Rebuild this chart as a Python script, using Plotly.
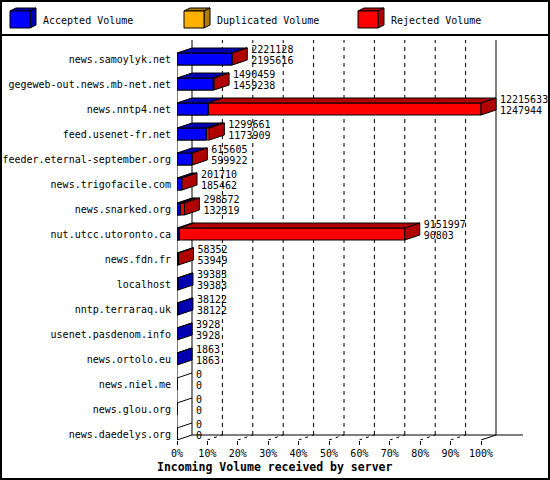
import plotly.graph_objects as go

# incoming volume per server
servers = ["news.samoylyk.net", "gegeweb-out.news.mb-net.net", "news.nntp4.net",
           "feed.usenet-fr.net", "feeder.eternal-september.org", "news.trigofacile.com",
           "news.snarked.org", "nut.utcc.utoronto.ca", "news.fdn.fr", "localhost",
           "nntp.terraraq.uk", "usenet.pasdenom.info", "news.ortolo.eu", "news.niel.me",
           "news.glou.org", "news.daedelys.org"]
total_volume = [2221128, 1490459, 12215633, 1299661, 615605, 201710, 298572, 9151997,
                58352, 39383, 38122, 3928, 1863, 0, 0, 0]
accepted_volume = [2195616, 1459238, 1247944, 1173909, 599922, 185462, 132319, 90803,
                   53949, 39383, 38122, 3928, 1863, 0, 0, 0]
duplicated_volume = [0, 0, 0, 0, 0, 0, 0, 0, 0, 0, 0, 0, 0, 0, 0, 0]
tick_pcts = [0, 10, 20, 30, 40, 50, 60, 70, 80, 90, 100]
tick_labels = ["0%", "10%", "20%", "30%", "40%", "50%", "60%", "70%", "80%", "90%", "100%"]
legend_names = ["Accepted Volume", "Duplicated Volume", "Rejected Volume"]

BLUE, BLUE_DK = "#0000ff", "#0000b0"
ORANGE, ORANGE_DK = "#ffb000", "#b07c00"
RED, RED_DK = "#ff0000", "#b00000"
MONO = "DejaVu Sans Mono"

# pixel geometry of the pseudo-3d drawing
L, R, T, B = 177, 530, 38, 440
PX_PER_PCT = 3.04
ROW0_PX, ROW_PX = 59, 25
DEPTH_X, DEPTH_Y = 15, 5
BAR_PX = 12

vmax = max(total_volume)
unit_px = PX_PER_PCT * 100 / vmax
dx = DEPTH_X / unit_px
dy = DEPTH_Y / ROW_PX
h = BAR_PX / 2 / ROW_PX
rows = list(range(len(servers)))
y_lo = (B - ROW0_PX) / ROW_PX
y_hi = (T - ROW0_PX) / ROW_PX
y_wall_top = (40 - ROW0_PX) / ROW_PX
y_front_floor = rows[-1] + h
y_back_floor = y_front_floor - dy


def path(pts, fill, layer="above"):
    d = "M " + " L ".join(f"{x},{y}" for x, y in pts) + " Z"
    return dict(type="path", xref="x", yref="y", path=d, fillcolor=fill,
                line=dict(color="black", width=1), layer=layer)


def seg(x0, y0, x1, y1, dash="solid", layer="below"):
    return dict(type="line", xref="x", yref="y", x0=x0, y0=y0, x1=x1, y1=y1,
                line=dict(color="black", width=1, dash=dash), layer=layer)


def pxx(x):
    return (x - L) / (R - L)


def pxy(y):
    return (B - y) / (B - T)


shapes = []
# back walls and floor
shapes.append(seg(dx, y_back_floor, dx, y_wall_top))
shapes.append(seg(vmax + dx, y_back_floor, vmax + dx, y_wall_top))
shapes.append(seg(dx, y_back_floor, vmax * 1.138, y_back_floor))
for p in tick_pcts:
    xv = vmax * p / 100
    if 0 < p < 100:
        shapes.append(seg(xv + dx, y_back_floor, xv + dx, y_wall_top, dash="4px,4px"))
        shapes.append(seg(xv, y_front_floor, xv + dx, y_back_floor, dash="3px,4px"))
    else:
        shapes.append(seg(xv, y_front_floor, xv + dx, y_back_floor))
shapes.append(seg(0, -h, 0, y_front_floor, layer="above"))

# top and side faces of the bars
for i, tot, acc in zip(rows, total_volume, accepted_volume):
    top, bot = i - h, i + h
    if tot == 0:
        shapes.append(seg(0, top, dx, top - dy, layer="above"))
        continue
    if acc > 0:
        shapes.append(path([(0, top), (acc, top), (acc + dx, top - dy), (dx, top - dy)], BLUE_DK))
    if tot > acc:
        shapes.append(path([(acc, top), (tot, top), (tot + dx, top - dy), (acc + dx, top - dy)], RED_DK))
    side = RED_DK if tot > acc else BLUE_DK
    shapes.append(path([(tot, top), (tot, bot), (tot + dx, bot - dy), (tot + dx, top - dy)], side))

# frame and legend band
shapes.append(dict(type="rect", xref="paper", yref="paper", x0=pxx(1), y0=pxy(1),
                   x1=pxx(549), y1=pxy(479), line=dict(color="black", width=2)))
shapes.append(dict(type="line", xref="paper", yref="paper", x0=pxx(0), y0=pxy(35),
                   x1=pxx(550), y1=pxy(35), line=dict(color="black", width=2)))
annotations = []
for x0, name, (c, cd) in zip([10, 184, 358], legend_names,
                             [(BLUE, BLUE_DK), (ORANGE, ORANGE_DK), (RED, RED_DK)]):
    for pts, col in [([(x0, 11), (x0 + 6, 8), (x0 + 26, 8), (x0 + 20, 11)], cd),
                     ([(x0 + 20, 11), (x0 + 26, 8), (x0 + 26, 25), (x0 + 20, 28)], cd),
                     ([(x0, 11), (x0 + 20, 11), (x0 + 20, 28), (x0, 28)], c)]:
        d = "M " + " L ".join(f"{pxx(a)},{pxy(b)}" for a, b in pts) + " Z"
        shapes.append(dict(type="path", xref="paper", yref="paper", path=d, fillcolor=col,
                           line=dict(color="black", width=1)))
    annotations.append(dict(x=pxx(x0 + 31), y=pxy(20), xref="paper", yref="paper", text=name,
                            showarrow=False, xanchor="left", yanchor="middle",
                            font=dict(family=MONO, size=10, color="black")))
annotations.append(dict(x=pxx(155), y=pxy(467), xref="paper", yref="paper",
                        text="<b>Incoming Volume received by server</b>", showarrow=False,
                        xanchor="left", yanchor="middle",
                        font=dict(family=MONO, size=11.5, color="black")))

fig = go.Figure()
fig.add_trace(go.Bar(orientation="h", y=rows, x=total_volume, base=0, width=2 * h,
                     marker=dict(color=RED, line=dict(color="black", width=1)), name="Rejected"))
fig.add_trace(go.Bar(orientation="h", y=rows, x=accepted_volume, base=0, width=2 * h,
                     marker=dict(color=BLUE, line=dict(color="black", width=1)), name="Accepted"))
fig.add_trace(go.Bar(orientation="h", y=rows, x=duplicated_volume, base=accepted_volume, width=2 * h,
                     marker=dict(color=ORANGE, line=dict(color="black", width=1)), name="Duplicated"))

text_x = [t + dx + 4 / unit_px for t in total_volume]
fig.add_trace(go.Scatter(x=text_x, y=[i - 0.34 for i in rows], mode="text",
                         text=[str(v) for v in total_volume], textposition="middle right",
                         textfont=dict(family=MONO, size=10, color="black"), cliponaxis=False))
fig.add_trace(go.Scatter(x=text_x, y=[i + 0.1 for i in rows], mode="text",
                         text=[str(v) for v in accepted_volume], textposition="middle right",
                         textfont=dict(family=MONO, size=10, color="black"), cliponaxis=False))

fig.update_layout(
    width=550, height=480, barmode="overlay", showlegend=False,
    margin=dict(l=L, r=550 - R, t=T, b=480 - B, pad=0, autoexpand=False),
    paper_bgcolor="white", plot_bgcolor="white",
    shapes=shapes, annotations=annotations,
    xaxis=dict(range=[0, vmax * (R - L) / (PX_PER_PCT * 100)], automargin=False,
               tickvals=[vmax * p / 100 for p in tick_pcts], ticktext=tick_labels,
               ticks="outside", ticklen=4, tickcolor="black", showgrid=False,
               zeroline=False, showline=False,
               tickfont=dict(family=MONO, size=10, color="black")),
    yaxis=dict(range=[y_lo, y_hi], automargin=False, tickvals=rows, ticktext=servers, ticks="",
               showgrid=False, zeroline=False, showline=False, ticklabelstandoff=5,
               tickfont=dict(family=MONO, size=10, color="black")),
)
fig.write_html("out.html", config={"displayModeBar": False},
               post_script="document.body.style.margin='0';")
